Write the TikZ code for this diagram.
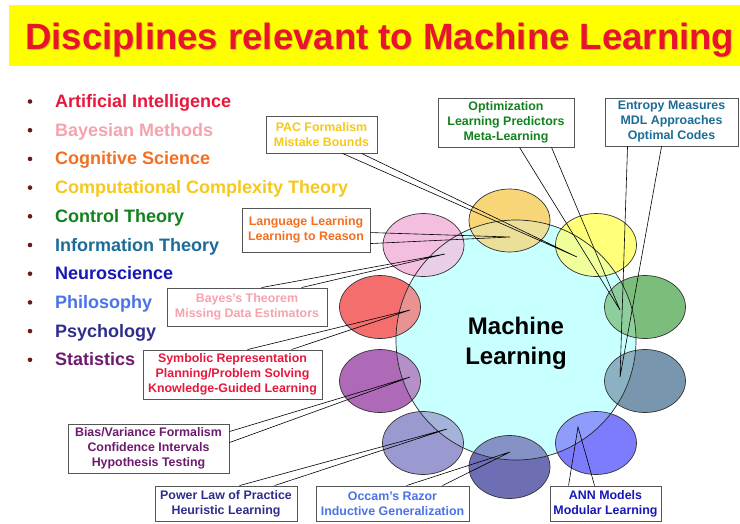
\documentclass[tikz,border=0pt]{standalone}
\usepackage{fontspec}
\usepackage{graphicx}
\setmainfont{Liberation Sans}
\usetikzlibrary{shapes.geometric}

% text colours of the disciplines
\definecolor{tAI}{HTML}{E8173D}
\definecolor{tBay}{HTML}{F5A3AD}
\definecolor{tCog}{HTML}{F36F21}
\definecolor{tCmp}{HTML}{F5C91C}
\definecolor{tCtl}{HTML}{12821F}
\definecolor{tInf}{HTML}{1B6C97}
\definecolor{tNeu}{HTML}{1717B8}
\definecolor{tPhi}{HTML}{4A73E8}
\definecolor{tPsy}{HTML}{2E2E8C}
\definecolor{tSta}{HTML}{6E1A6E}
% fills of the surrounding ellipses
\definecolor{fAI}{HTML}{F56E6E}
\definecolor{fBay}{HTML}{F4BEE0}
\definecolor{fCog}{HTML}{F8D577}
\definecolor{fCmp}{HTML}{FFFF7A}
\definecolor{fCtl}{HTML}{7BBE7B}
\definecolor{fInf}{HTML}{7897AE}
\definecolor{fNeu}{HTML}{7C7CFC}
\definecolor{fPhi}{HTML}{6E6EB4}
\definecolor{fPsy}{HTML}{9A9AD0}
\definecolor{fSta}{HTML}{AE6AB6}
\definecolor{mlCyan}{HTML}{C8FFFF}
\definecolor{titleRed}{HTML}{E8142E}
\definecolor{titleBar}{HTML}{FFFF00}
\definecolor{boxGray}{HTML}{555555}
\definecolor{bulletDark}{HTML}{6B1A1A}

\begin{document}
\begin{tikzpicture}[x=1pt,y=-1pt,
  listitem/.style={anchor=base west, inner sep=0pt, font=\fontsize{18}{20}\selectfont\bfseries},
  callout/.style={draw=boxGray, line width=0.9pt, fill=white, inner sep=0pt,
    align=center, font=\fontsize{12.4}{15}\selectfont\bfseries},
  disc/.style={ellipse, minimum width=81pt, minimum height=63pt, inner sep=0pt},
  discline/.style={draw=black!80, line width=0.7pt},
  pointer/.style={draw=black, line width=0.6pt},
  dot/.style={fill=bulletDark}]

\useasboundingbox (0,0) rectangle (740,523);
\fill[white] (0,0) rectangle (740,523);

% title bar
\fill[titleBar] (9,5) rectangle (740,66);
\node[anchor=base west, inner sep=0pt, text=black, opacity=0.18] (titleshadow) at (26,50)
  {\resizebox{709pt}{!}{\fontsize{36}{40}\selectfont\bfseries Disciplines relevant to Machine Learning}};
\node[anchor=base west, inner sep=0pt, text=titleRed] (title) at (25,49)
  {\resizebox{709pt}{!}{\fontsize{36}{40}\selectfont\bfseries Disciplines relevant to Machine Learning}};

% list of disciplines
\foreach \i/\c/\t in {0/tAI/Artificial Intelligence, 1/tBay/Bayesian Methods,
    2/tCog/Cognitive Science, 3/tCmp/Computational Complexity Theory,
    4/tCtl/Control Theory, 5/tInf/Information Theory, 6/tNeu/Neuroscience,
    7/tPhi/Philosophy, 8/tPsy/Psychology, 9/tSta/Statistics} {
  \fill[dot] (30,{101.5+28.7*\i}) circle (2.3pt);
  \node[listitem, text=\c] (item\i) at (55,{107.5+28.7*\i}) {\t};
}

% central circle
\node[circle, fill=mlCyan, minimum size=240pt, inner sep=0pt] (ml) at (516,340) {};

% surrounding discipline ellipses (fills)
\node[disc, fill=fBay] (eBay) at (423.5,245) {};
\node[disc, fill=fCog] (eCog) at (509.5,220.5) {};
\node[disc, fill=fCmp] (eCmp) at (596,245) {};
\node[disc, fill=fCtl] (eCtl) at (645,307) {};
\node[disc, fill=fInf] (eInf) at (645,381) {};
\node[disc, fill=fNeu] (eNeu) at (596,443) {};
\node[disc, fill=fPhi] (ePhi) at (509.5,467) {};
\node[disc, fill=fPsy] (ePsy) at (423,443) {};
\node[disc, fill=fSta] (eSta) at (380,381) {};
\node[disc, fill=fAI] (eAI) at (380,307) {};

% cyan tint over the ellipse parts inside the circle
\fill[mlCyan, fill opacity=0.25] (ml.center) circle (120pt);

% outlines of the ellipses and of the circle
\foreach \e in {eBay,eCog,eCmp,eCtl,eInf,eNeu,ePhi,ePsy,eSta,eAI}
  \draw[discline] (\e.center) ellipse (40.5pt and 31.5pt);
\draw[black!85, line width=0.7pt] (ml.center) circle (120pt);
\node[align=center, inner sep=0pt, font=\fontsize{24}{30}\selectfont\bfseries] (mltext) at (516,343) {Machine\\Learning};

% callout boxes
\node[callout, minimum width=111pt, minimum height=37pt, text=tCmp] (pac) at (321.5,134.5) {PAC Formalism\\Mistake Bounds};
\node[callout, minimum width=128pt, minimum height=44pt, text=tCog] (lang) at (306,230) {Language Learning\\Learning to Reason};
\node[callout, minimum width=136pt, minimum height=49pt, text=tCtl] (opt) at (506,122.5) {Optimization\\Learning Predictors\\Meta-Learning};
\node[callout, minimum width=133pt, minimum height=48pt, text=tInf] (ent) at (671.5,122) {Entropy Measures\\MDL Approaches\\Optimal Codes};
\node[callout, minimum width=160pt, minimum height=38pt, text=tBay] (bay) at (247,307) {Bayes's Theorem\\Missing Data Estimators};
\node[callout, minimum width=179pt, minimum height=49pt, text=tAI] (sym) at (232.5,374.5) {Symbolic Representation\\Planning/Problem Solving\\Knowledge-Guided Learning};
\node[callout, minimum width=161pt, minimum height=49pt, text=tSta] (bias) at (148.5,448.5) {Bias/Variance Formalism\\Confidence Intervals\\Hypothesis Testing};
\node[callout, minimum width=142pt, minimum height=35pt, text=tPsy] (pow) at (226,503.5) {Power Law of Practice\\Heuristic Learning};
\node[callout, minimum width=153pt, minimum height=35pt, text=tPhi] (occ) at (392.5,503.5) {Occam's Razor\\Inductive Generalization};
\node[callout, minimum width=111pt, minimum height=35pt, text=tNeu] (ann) at (605.5,503.5) {ANN Models\\Modular Learning};

% tips of the callout wedges inside the ellipses
\coordinate (pacT) at (577,257);
\coordinate (langT) at (510,237);
\coordinate (optT) at (620,310);
\coordinate (entT) at (620,377);
\coordinate (bayT) at (445,254);
\coordinate (symT) at (410,310);
\coordinate (biasT) at (410,377);
\coordinate (powT) at (447,429);
\coordinate (occT) at (510,452);
\coordinate (annT) at (578,427);

% callout wedges
\draw[pointer] ([xshift=77pt]pac.south west) -- (pacT) -- ([xshift=96pt]pac.south west);
\draw[pointer] ([yshift=-25pt]lang.north east) -- (langT) -- ([yshift=-36pt]lang.north east);
\draw[pointer] ([xshift=82pt]opt.south west) -- (optT) -- ([xshift=114pt]opt.south west);
\draw[pointer] ([xshift=23pt]ent.south west) -- (entT) -- ([xshift=57pt]ent.south west);
\draw[pointer] ([xshift=95pt]bay.north west) -- (bayT) -- ([xshift=135pt]bay.north west);
\draw[pointer] ([xshift=105pt]sym.north west) -- (symT) -- ([xshift=149pt]sym.north west);
\draw[pointer] ([yshift=-8pt]bias.north east) -- (biasT) -- ([yshift=-19pt]bias.north east);
\draw[pointer] ([xshift=85pt]pow.north west) -- (powT) -- ([xshift=120pt]pow.north west);
\draw[pointer] ([xshift=91pt]occ.north west) -- (occT) -- ([xshift=127pt]occ.north west);
\draw[pointer] ([xshift=19pt]ann.north west) -- (annT) -- ([xshift=45pt]ann.north west);

\end{tikzpicture}
\end{document}
